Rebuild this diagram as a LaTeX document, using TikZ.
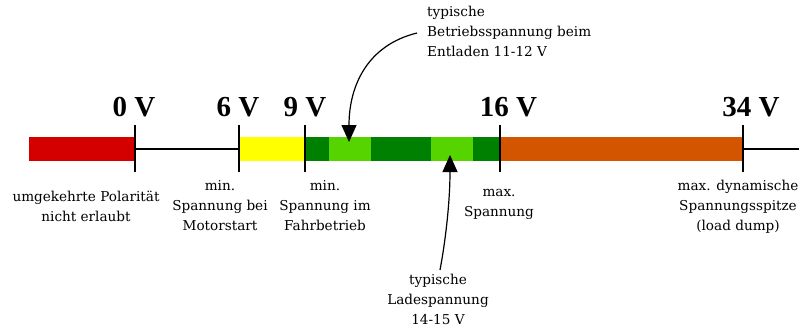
\documentclass[tikz,border=0pt]{standalone}
\usepackage{fontspec}
\setmainfont{DejaVu Serif}
\newfontfamily\valfont{Liberation Serif}
\usetikzlibrary{arrows.meta}

\definecolor{cred}{HTML}{D40000}
\definecolor{cyellow}{HTML}{FFFF00}
\definecolor{cdark}{HTML}{008000}
\definecolor{clight}{HTML}{55D400}
\definecolor{corange}{HTML}{D45500}

\tikzset{
  seg/.style={rectangle, draw=none, inner sep=0pt, minimum height=24pt},
  axisline/.style={line width=1.3pt},
  tickline/.style={line width=1.4pt},
  val/.style={font=\valfont\bfseries\fontsize{29}{30}\selectfont, inner sep=0pt, anchor=base},
  note/.style={font=\fontsize{13.6}{20}\selectfont, align=center, inner sep=0pt, anchor=base},
  pointer/.style={line width=1.2pt, -{Triangle[length=17pt,width=15pt]}},
}

\begin{document}
\begin{tikzpicture}[x=1pt,y=-1pt]
\useasboundingbox (0,0) rectangle (799,332);

% voltage bar
\node[seg, fill=cred,    minimum width=106pt] (neg)  at (82,149)    {};
\node[seg, fill=cyellow, minimum width=66pt]  (yel)  at (272,149)   {};
\node[seg, fill=cdark,   minimum width=24pt]  (dg1)  at (317,149)   {};
\node[seg, fill=clight,  minimum width=42pt]  (lg1)  at (350,149)   {};
\node[seg, fill=cdark,   minimum width=60pt]  (dg2)  at (401,149)   {};
\node[seg, fill=clight,  minimum width=42pt]  (lg2)  at (452,149)   {};
\node[seg, fill=cdark,   minimum width=27pt]  (dg3)  at (486.5,149) {};
\node[seg, fill=corange, minimum width=243pt] (orn)  at (621.5,149) {};
\coordinate (axisend) at (799,149);

% axis line between the coloured ranges
\draw[axisline] (neg.east) -- (yel.west);
\draw[axisline] (orn.east) -- (axisend);

% ticks
\foreach \x in {135,239,305,500,743}
  \draw[tickline] (\x,125) -- (\x,172);

% voltage values
\node[val] (v0)  at (134,116)   {0 V};
\node[val] (v6)  at (238,116)   {6 V};
\node[val] (v9)  at (305,116)   {9 V};
\node[val] (v16) at (508.5,116) {16 V};
\node[val] (v34) at (751,116)   {34 V};

% descriptions below the bar (base = baseline of the last line)
\node[note] (rev)  at (86,221.5)  {umgekehrte Polarität\\nicht erlaubt};
\node[note] (mot)  at (220,230.5) {min.\\Spannung bei\\Motorstart};
\node[note] (fahr) at (325,230.5) {min.\\Spannung im\\Fahrbetrieb};
\node[note] (max)  at (499,216)   {max.\\Spannung};
\node[note] (dump) at (738,230)   {max. dynamische\\Spannungsspitze\\(load dump)};

% typical ranges with pointers
\node[note, align=left, anchor=base west] (entl) at (427,56.5)
  {typische\\Betriebsspannung beim\\Entladen 11-12 V};
\node[note] (lade) at (438,324.5) {typische\\Ladespannung\\14-15 V};

\coordinate (entltip) at (349,142);
\coordinate (ladetip) at (450,155);
\coordinate (entlstart) at (417,33);
\coordinate (ladestart) at (440,270);

\draw[pointer] (entlstart) .. controls (368,45) and (349,85) .. (entltip);
\draw[pointer] (ladestart) .. controls (446,238) and (450,200) .. (ladetip);
\end{tikzpicture}
\end{document}
